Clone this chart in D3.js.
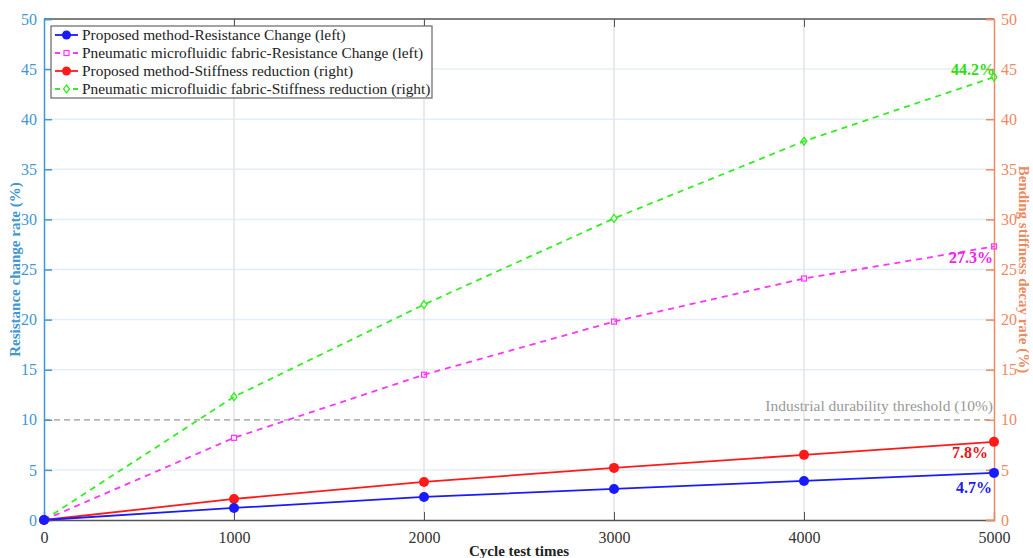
<!DOCTYPE html>
<html><head><meta charset="utf-8">
<script src="https://cdn.jsdelivr.net/npm/d3@7"></script>
<style>body{margin:0;background:#fff}svg{display:block}text{font-family:"Liberation Serif","Times New Roman",serif}</style>
</head><body><svg id="c" width="1033" height="558"></svg>
<script>
const cycles = [0, 1000, 2000, 3000, 4000, 5000];
const propResist = [0, 1.2, 2.3, 3.1, 3.9, 4.7];
const pneuResist = [0, 8.2, 14.5, 19.8, 24.1, 27.3];
const propStiff = [0, 2.1, 3.8, 5.2, 6.5, 7.8];
const pneuStiff = [0, 12.3, 21.5, 30.1, 37.8, 44.2];
const yTicks = [0, 5, 10, 15, 20, 25, 30, 35, 40, 45, 50];
const xTicks = [0, 1000, 2000, 3000, 4000, 5000];
const threshold = 10;
const legendLabels = ["Proposed method-Resistance Change (left)","Pneumatic microfluidic fabric-Resistance Change (left)","Proposed method-Stiffness reduction (right)","Pneumatic microfluidic fabric-Stiffness reduction (right)"];

const L=44,R=994,T=19,B=520;
const blueAx="#3f97d3", orangeAx="#ec8a62";
const svg=d3.select("#c");
const x=d3.scaleLinear().domain([0,5000]).range([L,R]);
const yL=d3.scaleLinear().domain([0,50]).range([B,T]);
const yR=d3.scaleLinear().domain([0,50]).range([B,T]);

// grid
svg.append("g").selectAll("line").data(yTicks.filter(d=>d>0&&d<50&&d!==threshold)).join("line")
 .attr("x1",L).attr("x2",R).attr("y1",d=>yL(d)).attr("y2",d=>yL(d)).attr("stroke","#e4eef7").attr("stroke-width",1.5);
svg.append("g").selectAll("line").data(xTicks.filter(d=>d>0&&d<5000)).join("line")
 .attr("x1",d=>x(d)).attr("x2",d=>x(d)).attr("y1",T).attr("y2",B).attr("stroke","#e3e3e6").attr("stroke-width",1.5);

// threshold
svg.append("line").attr("x1",L).attr("x2",R).attr("y1",yL(threshold)).attr("y2",yL(threshold))
 .attr("stroke","#999").attr("stroke-width",1.3).attr("stroke-dasharray","6,4");
svg.append("text").attr("x",x(5000)-1).attr("y",yL(threshold)-9).attr("text-anchor","end")
 .attr("fill","#999").attr("font-size",15.5).text("Industrial durability threshold (10%)");

// top border + axes
svg.append("line").attr("x1",L).attr("x2",R).attr("y1",T).attr("y2",T).attr("stroke","#555").attr("stroke-width",1.3);
const gx=svg.append("g").attr("transform",`translate(0,${B})`)
 .call(d3.axisBottom(x).tickValues(xTicks).tickSize(-8).tickPadding(12).tickFormat(d3.format("d")));
gx.select(".domain").attr("stroke","#555").attr("stroke-width",1.3);
gx.selectAll(".tick line").attr("stroke","#555");
gx.selectAll("text").attr("fill","#333").attr("font-size",16).attr("font-family","Liberation Serif");
const gxt=svg.append("g").attr("transform",`translate(0,${T})`)
 .call(d3.axisTop(x).tickValues(xTicks).tickSize(-8).tickFormat(""));
gxt.select(".domain").remove();
gxt.selectAll(".tick line").attr("stroke","#555");

const gl=svg.append("g").attr("transform",`translate(${L},0)`)
 .call(d3.axisLeft(yL).tickValues(yTicks).tickSize(-8).tickPadding(7));
gl.select(".domain").attr("stroke",blueAx).attr("stroke-width",1.5);
gl.selectAll(".tick line").attr("stroke",blueAx).attr("stroke-width",1.5);
gl.selectAll("text").attr("fill",blueAx).attr("font-size",16).attr("font-family","Liberation Serif");
const gr=svg.append("g").attr("transform",`translate(${R},0)`)
 .call(d3.axisRight(yR).tickValues(yTicks).tickSize(-8).tickPadding(7));
gr.select(".domain").attr("stroke",orangeAx).attr("stroke-width",1.5);
gr.selectAll(".tick line").attr("stroke",orangeAx).attr("stroke-width",1.5);
gr.selectAll("text").attr("fill",orangeAx).attr("font-size",16).attr("font-family","Liberation Serif");

// titles
svg.append("text").attr("transform",`translate(20,${(T+B)/2}) rotate(-90)`).attr("text-anchor","middle")
 .attr("fill",blueAx).attr("font-weight","bold").attr("font-size",15).text("Resistance change rate (%)");
svg.append("text").attr("transform",`translate(1019,${(T+B)/2}) rotate(90)`).attr("text-anchor","middle")
 .attr("fill",orangeAx).attr("font-weight","bold").attr("font-size",15).text("Bending stiffness decay rate (%)");
svg.append("text").attr("x",(L+R)/2).attr("y",556).attr("text-anchor","middle")
 .attr("fill","#222").attr("font-weight","bold").attr("font-size",15).text("Cycle test times");

// series
const series=[
 {vals:pneuStiff,y:yR,color:"#33ee22",dash:"6,5",marker:"diamond"},
 {vals:pneuResist,y:yL,color:"#ff33ff",dash:"6,5",marker:"square"},
 {vals:propStiff,y:yR,color:"#ff1a1a",dash:null,marker:"circle"},
 {vals:propResist,y:yL,color:"#1a1aff",dash:null,marker:"circle"}
];
series.forEach(s=>{
 const line=d3.line().x((d,i)=>x(cycles[i])).y(d=>s.y(d));
 svg.append("path").datum(s.vals).attr("d",line).attr("fill","none").attr("stroke",s.color)
  .attr("stroke-width",1.8).attr("stroke-dasharray",s.dash);
 const g=svg.append("g");
 s.vals.forEach((v,i)=>{
  const cx=x(cycles[i]),cy=s.y(v);
  if(s.marker==="circle") g.append("circle").attr("cx",cx).attr("cy",cy).attr("r",5).attr("fill",s.color);
  else if(s.marker==="square") g.append("rect").attr("x",cx-2.5).attr("y",cy-2.5).attr("width",5).attr("height",5).attr("fill","none").attr("stroke",s.color).attr("stroke-width",1.2);
  else g.append("path").attr("d",`M${cx},${cy-4}L${cx+3},${cy}L${cx},${cy+4}L${cx-3},${cy}Z`).attr("fill","none").attr("stroke",s.color).attr("stroke-width",1.3);
 });
});

// end annotations
const ann=[
 {v:pneuStiff[5],y:yR,c:"#33dd11",dx:1,dy:-2,t:pneuStiff[5]+"%"},
 {v:pneuResist[5],y:yL,c:"#ee22ee",dx:-1,dy:17,t:pneuResist[5]+"%"},
 {v:propStiff[5],y:yR,c:"#ee1111",dx:-6,dy:16,t:propStiff[5]+"%"},
 {v:propResist[5],y:yL,c:"#1a1aee",dx:-2,dy:20,t:propResist[5]+"%"}
];
ann.forEach(a=>svg.append("text").attr("x",x(5000)+a.dx).attr("y",a.y(a.v)+a.dy).attr("text-anchor","end")
 .attr("fill",a.c).attr("font-weight","bold").attr("font-size",16).text(a.t));

// legend
const lg=svg.append("g");
lg.append("rect").attr("x",51).attr("y",26).attr("width",381).attr("height",72).attr("fill","#fff").attr("stroke","#666").attr("stroke-width",1.2);
const lstyle=[series[3],series[1],series[2],series[0]];
legendLabels.forEach((lab,i)=>{
 const yy=35+i*18, s=lstyle[i];
 lg.append("line").attr("x1",55).attr("x2",78).attr("y1",yy).attr("y2",yy).attr("stroke",s.color).attr("stroke-width",1.8).attr("stroke-dasharray",s.dash?"5,4":null);
 const cx=66.5;
 if(s.marker==="circle") lg.append("circle").attr("cx",cx).attr("cy",yy).attr("r",4.5).attr("fill",s.color);
 else if(s.marker==="square") lg.append("rect").attr("x",cx-2.5).attr("y",yy-2.5).attr("width",5).attr("height",5).attr("fill","#fff").attr("stroke",s.color).attr("stroke-width",1.2);
 else lg.append("path").attr("d",`M${cx},${yy-4}L${cx+3},${yy}L${cx},${yy+4}L${cx-3},${yy}Z`).attr("fill","#fff").attr("stroke",s.color).attr("stroke-width",1.3);
 lg.append("text").attr("x",82).attr("y",yy+5).attr("fill","#222").attr("font-size",15.4).text(lab);
});
</script></body></html>
